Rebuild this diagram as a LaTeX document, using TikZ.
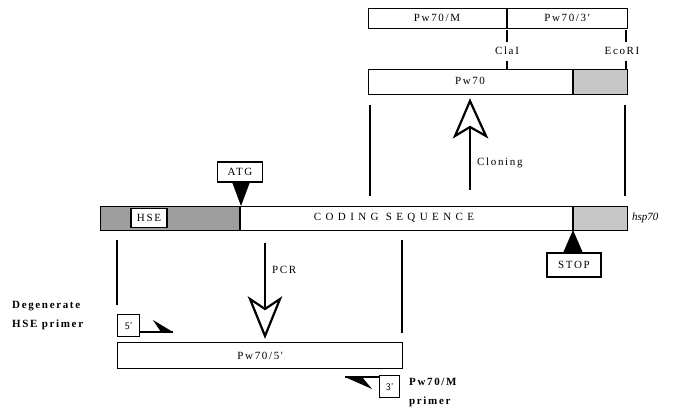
\documentclass[tikz,border=0pt]{standalone}
\usepackage{fontspec}
\setmainfont{Liberation Serif}
\newfontfamily\pf[LetterSpace=15]{Liberation Serif}
\newfontfamily\wide[LetterSpace=40]{Liberation Serif}
\begin{document}
\begin{tikzpicture}[x=1pt,y=-1pt,
  box/.style={draw,line width=1.3pt,fill=white,inner sep=0pt},
  lbl/.style={font=\fontsize{11}{13}\selectfont\pf,inner sep=0pt},
  blbl/.style={font=\fontsize{11}{13}\selectfont\pf\bfseries,inner sep=0pt,anchor=west},
  thin/.style={line width=1.3pt},
  shaft/.style={line width=2.8pt},
  hollowhead/.style={draw,line width=2.2pt,fill=white,line join=miter},
  shadeA/.style={fill=black!38},
  shadeB/.style={fill=black!22}]
\useasboundingbox (0,0) rectangle (682,412);

% ---------- main gene bar ----------
\fill[shadeA] (100,206) rectangle (240,230);
\fill[shadeB] (573,206) rectangle (627,230);
\draw[thin] (240,206) -- (240,230) (573,206) -- (573,230);
\node[box,minimum width=527pt,minimum height=24pt,fill=none,anchor=north west] (bar) at (100,206) {};
\node[box,minimum width=36pt,minimum height=19pt] (hse) at (149,218) {};
\node[lbl] at (hse) {HSE};
\node[font=\fontsize{11}{13}\selectfont\wide,inner sep=0pt] (cds) at (394,218) {CODING SEQUENCE};
\node[font=\fontsize{11}{13}\selectfont\itshape,anchor=west,inner sep=0pt] (hsp) at (632,218) {hsp70};

% ATG
\node[box,minimum width=45pt,minimum height=20pt] (atg) at (240,172) {};
\node[lbl] at (atg) {ATG};
\coordinate (atgtip) at (241,206);
\fill (232,182) -- (250,182) -- (atgtip) -- cycle;

% STOP
\node[box,minimum width=54pt,minimum height=24pt] (stop) at (574,265) {};
\node[lbl] at (stop) {STOP};
\coordinate (stoptip) at (573,230);
\fill (563,253) -- (583,253) -- (stoptip) -- cycle;

% ---------- top constructs ----------
\node[box,minimum width=259pt,minimum height=20pt,anchor=north west] (top) at (368,8) {};
\draw[thin] (507,8) -- (507,28);
\node[lbl] (pm) at (437,18) {Pw70/M};
\node[lbl] (p3) at (567,18) {Pw70/3'};

\node[lbl] (cla) at (507,51) {ClaI};
\node[lbl] (eco) at (622,51) {EcoRI};
\draw[thin] (507,30) -- (507,42) (507,61) -- (507,69);
\draw[thin] (626,30) -- (626,42) (626,61) -- (626,69);

\fill[shadeB] (573,69) rectangle (627,94);
\node[box,minimum width=259pt,minimum height=25pt,fill=none,anchor=north west] (pw) at (368,69) {};
\draw[thin] (573,69) -- (573,94);
\node[lbl] at (470,81) {Pw70};

\coordinate (la) at (370,105); \coordinate (lb) at (370,196);
\coordinate (ra) at (625,105); \coordinate (rb) at (625,196);
\draw[thin] (la) -- (lb) (ra) -- (rb);

% Cloning arrow
\coordinate (cbot) at (470,190); \coordinate (cnotch) at (470,127);
\draw[shaft] (cbot) -- (cnotch);
\draw[hollowhead] (470,101) -- (486,136) -- (cnotch) -- (455,136) -- cycle;
\node[lbl,anchor=west] (clon) at (477,163) {Cloning};

% ---------- PCR product ----------
\coordinate (lla) at (117,240); \coordinate (llb) at (117,305);
\coordinate (rra) at (402,240); \coordinate (rrb) at (402,333);
\draw[thin] (lla) -- (llb) (rra) -- (rrb);

\coordinate (ptop) at (265,243); \coordinate (pnotch) at (265,309);
\draw[shaft] (ptop) -- (pnotch);
\draw[hollowhead] (265,336) -- (250,299) -- (pnotch) -- (280,299) -- cycle;
\node[lbl,anchor=west] (pcr) at (272,270) {PCR};

\node[box,minimum width=285pt,minimum height=26pt,anchor=north west] (p5) at (117,342) {};
\node[lbl] at (p5) {Pw70/5'};

% 5' primer
\node[box,minimum width=22pt,minimum height=22pt,anchor=north west] (f5) at (117,314) {};
\node[font=\fontsize{10}{12}\selectfont\sffamily,inner sep=0pt] at (f5) {5'};
\coordinate (f5end) at (173,332);
\draw[thin] (139,332) -- (f5end);
\fill (153,320) -- (f5end) -- (161,332) -- cycle;

% 3' primer
\node[box,minimum width=20pt,minimum height=22pt,anchor=north west] (r3) at (379,375) {};
\node[font=\fontsize{10}{12}\selectfont\sffamily,inner sep=0pt] at (r3) {3'};
\coordinate (r3end) at (345,377);
\draw[thin] (379,377) -- (r3end);
\fill (r3end) -- (372,389) -- (362,377) -- cycle;

\node[blbl] (degA) at (12,306) {Degenerate};
\node[blbl] (degB) at (12,325) {HSE primer};
\node[blbl] (mA) at (409,382) {Pw70/M};
\node[blbl] (mB) at (409,402) {primer};
\end{tikzpicture}
\end{document}
